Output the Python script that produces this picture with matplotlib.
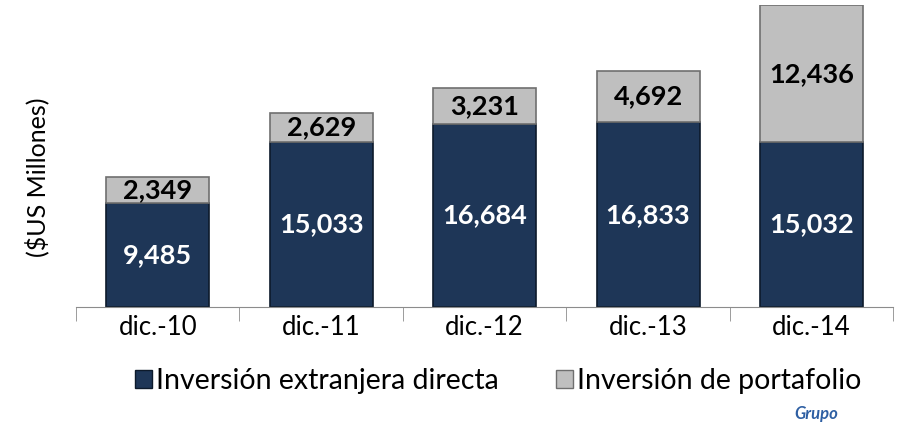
import numpy as np
import matplotlib.pyplot as plt
from matplotlib.patches import Patch

categories = ["dic.-10", "dic.-11", "dic.-12", "dic.-13", "dic.-14"]
directa = [9485, 15033, 16684, 16833, 15032]
portafolio = [2349, 2629, 3231, 4692, 12436]

navy = "#1e3657"
gray = "#bfbfbf"

plt.rcParams["font.family"] = ["Lato", "DejaVu Sans"]

fig = plt.figure(figsize=(9.02, 4.23), dpi=100)
ax = fig.add_axes([0.0843, 0.274, 0.906, 0.714])

x = np.arange(len(categories))
w = 0.63
ax.bar(x, directa, w, color=navy, edgecolor="#0d1a2b", linewidth=1.2)
ax.bar(x, portafolio, w, bottom=directa, color=gray, edgecolor="#6f6f6f", linewidth=1.2)

for i in range(len(categories)):
    ax.text(x[i], directa[i] / 2, f"{directa[i]:,}", ha="center", va="center",
            color="white", fontsize=19.5, fontweight="bold")
    ax.text(x[i], directa[i] + portafolio[i] / 2, f"{portafolio[i]:,}", ha="center",
            va="center", color="black", fontsize=19.5, fontweight="bold")

ax.set_xlim(-0.5, 4.5)
ax.set_ylim(0, 27500)
ax.set_yticks([])
for s in ["top", "right", "left"]:
    ax.spines[s].set_visible(False)
ax.spines["bottom"].set_color("#8c8c8c")
ax.set_xticks(x)
ax.set_xticklabels(categories, fontsize=18.5)
ax.tick_params(axis="x", which="major", length=0, pad=6)
ax.set_xticks(np.arange(-0.5, 4.6, 1), minor=True)
ax.tick_params(axis="x", which="minor", length=10, color="#8c8c8c")

fig.text(0.041, 0.58, "($US Millones)", rotation=90, ha="center", va="center", fontsize=18)

handles = [Patch(facecolor=navy, edgecolor="#0d1a2b", label="Inversión extranjera directa"),
           Patch(facecolor=gray, edgecolor="#6f6f6f", label="Inversión de portafolio")]
fig.legend(handles=handles, loc="center", bbox_to_anchor=(0.552, 0.1), ncol=2, frameon=False,
           fontsize=20.5, handlelength=0.6, handleheight=0.6, handletextpad=0.15, columnspacing=2.0)

fig.text(0.905, 0.002, "Grupo", color="#2e5fa3", fontsize=12, fontweight="bold",
         style="italic", ha="center", va="bottom")

fig.savefig("out.png", dpi=100)
